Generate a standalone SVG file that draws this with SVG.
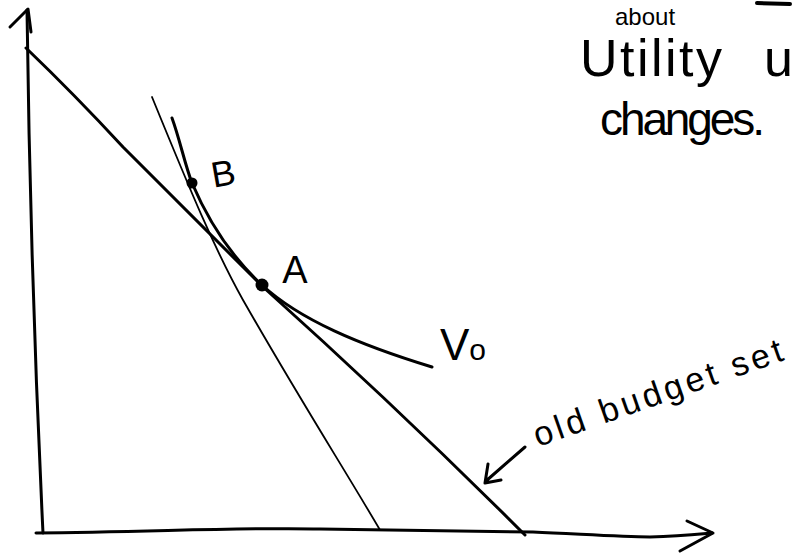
<svg xmlns="http://www.w3.org/2000/svg" width="797" height="554" viewBox="0 0 797 554">
<style>
.ink{fill:none;stroke:#000;stroke-linecap:round;stroke-linejoin:round}
.thick{stroke-width:3}
.thin{stroke-width:1.8}
.hand{font-family:"Liberation Sans","DejaVu Sans",sans-serif;fill:#000}
</style>
<rect width="797" height="554" fill="#fff"/>
<g id="axes">
<path class="ink thick" d="M43,533 C38,430 30,250 27,10"/>
<path class="ink thick" d="M10,27 L28,9 L31,32"/>
<path class="ink thick" d="M36,533 C150,532 250,527 320,529 C420,531 480,531 533,532 C580,534 620,537 650,537 C680,536 700,534 712,533"/>
<path class="ink thick" d="M687,521 L713,533 L680,551"/>
</g>
<g id="connectors">
<path id="old-budget" class="ink thick" d="M26,48 Q75,95 123,147 L262,286 Q400,410 525,535"/>
<path id="new-budget" class="ink thin" d="M152,97 C190,190 215,250 243,300 C300,400 345,470 380,530"/>
<path id="indifference" class="ink thick" d="M172,118 C180,140 185,165 192,183 C210,225 235,260 262,285 C300,320 360,345 432,367"/>
<path id="label-arrow" class="ink thick" d="M525,447 L486,481 M488,464 L485,483 L501,480"/>
</g>
<g id="point-B">
<circle cx="192" cy="183" r="5.5" fill="#000"/>
<text class="hand" x="223" y="186" font-size="36" text-anchor="middle" transform="rotate(-10 223 172)">B</text>
</g>
<g id="point-A">
<circle cx="262" cy="285" r="6.5" fill="#000"/>
<text class="hand" x="295" y="283" font-size="38" text-anchor="middle">A</text>
</g>
<g id="label-V0">
<text class="hand" x="440" y="360" font-size="44">V<tspan font-size="30">o</tspan></text>
</g>
<g id="label-old-budget">
<text class="hand" x="538" y="447" font-size="34" textLength="262" transform="rotate(-19.4 538 447)">old budget set</text>
</g>
<g id="note">
<text class="hand" x="615" y="25" font-size="24">about</text>
<path class="ink" stroke-width="4" d="M757,3 L790,4"/>
<text class="hand" x="580" y="76" font-size="52" textLength="142">Utility</text>
<text class="hand" x="764" y="76" font-size="52">u</text>
<text class="hand" x="600" y="135" font-size="46" textLength="165">changes.</text>
</g>
</svg>
